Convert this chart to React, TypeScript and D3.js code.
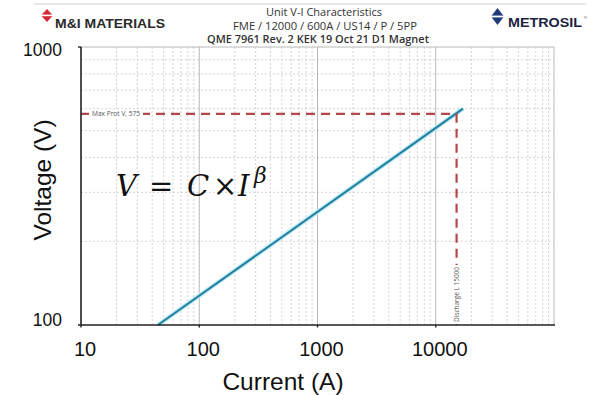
import React from "react";
import * as d3 from "d3";

const W = 591;
const H = 395;

// Data
const currentTicks = [10, 100, 1000, 10000];
const voltageTicks = [100, 1000];
const curveCurrent = [44.7, 17000];
const curveVoltage = [100, 600];
const maxProtV = 575;
const dischargeI = 15000;
const titleLines = [
  "Unit V-I Characteristics",
  "FME / 12000 / 600A / US14 / P / 5PP",
  "QME 7961 Rev. 2 KEK 19 Oct 21  D1 Magnet",
];
const titleWidths = [116, 184, 222];
const titleCenters = [324, 325, 318];

const PL = 81, PR = 554, PT = 47, PB = 325;

export default function App() {
  const x = d3.scaleLog().domain([10, 100000]).range([PL, PR]);
  const y = d3.scaleLog().domain([100, 1000]).range([PB, PT]);

  const minorX: number[] = [];
  for (let d = 10; d < 100000; d *= 10) for (let k = 2; k <= 9; k++) minorX.push(d * k);
  const majorX = [100, 1000, 10000];
  const minorY: number[] = [];
  for (let k = 2; k <= 9; k++) minorY.push(100 * k);

  const pts = curveCurrent.map((c, i) => [c, curveVoltage[i]] as [number, number]);
  const line = d3.line<[number, number]>().x((d) => x(d[0])).y((d) => y(d[1]));
  const pathD = line(pts) || "";

  const red = "#b4474b";
  const sans = "'Liberation Sans', Arial, sans-serif";
  const cal = "'Open Sans', 'Noto Sans', sans-serif";
  const serif = "'DejaVu Serif', 'Liberation Serif', serif";

  const xm = x(dischargeI);
  const ym = y(maxProtV);

  return (
    <svg width={W} height={H} style={{ position: "absolute", left: 0, top: 0, background: "#fff" }}>
      <rect x={0} y={0} width={W} height={H} fill="#fff" />
      {/* header rule */}
      <line x1={34} x2={586} y1={4} y2={4} stroke="#cfcfcf" strokeWidth={1.2} />
      {/* M&I logo */}
      <g>
        <path d="M47,9 L53,15.5 L47,22 L41,15.5 Z" fill="#d42a35" />
        <rect x={40} y={14.6} width={14} height={1.6} fill="#fff" />
        <text x={55} y={28} fontFamily={sans} fontWeight="bold" fontSize={12} fill="#2a2a2a"
          textLength={110} lengthAdjust="spacingAndGlyphs">M&amp;I MATERIALS</text>
      </g>
      {/* Metrosil logo */}
      <g>
        <path d="M497.5,8 L504,16.5 L497.5,25 L491,16.5 Z" fill="#1f3a78" />
        <rect x={490} y={15.6} width={15} height={1.8} fill="#fff" />
        <text x={508} y={27} fontFamily={sans} fontWeight="bold" fontSize={13} fill="#1b2340"
          textLength={74} lengthAdjust="spacingAndGlyphs">METROSIL</text>
        <text x={584} y={19} fontFamily={sans} fontSize={4} fill="#1b2340">®</text>
      </g>
      {/* title */}
      {titleLines.map((t, i) => (
        <text key={t} x={titleCenters[i] - titleWidths[i] / 2} y={16 + i * 13.5} fontFamily={cal}
          fontSize={11} fontWeight={i === 2 ? 600 : 400} fill="#333"
          textLength={titleWidths[i]} lengthAdjust="spacingAndGlyphs">{t}</text>
      ))}

      {/* grid */}
      {minorY.map((v) => (
        <line key={"hy" + v} x1={PL} x2={PR} y1={y(v)} y2={y(v)} stroke="#c9c9c9" strokeWidth={0.8} strokeDasharray="2,2" />
      ))}
      {minorX.map((v) => (
        <line key={"vx" + v} x1={x(v)} x2={x(v)} y1={PT} y2={PB} stroke="#c9c9c9" strokeWidth={0.8} strokeDasharray="2,2" />
      ))}
      {majorX.map((v) => (
        <line key={"mx" + v} x1={x(v)} x2={x(v)} y1={PT} y2={PB} stroke="#b8b8b8" strokeWidth={1} />
      ))}
      <line x1={PL} x2={PR} y1={PT} y2={PT} stroke="#b8b8b8" strokeWidth={1} />
      <line x1={PR} x2={PR} y1={PT} y2={PB} stroke="#b8b8b8" strokeWidth={1} />

      {/* curve */}
      <path d={pathD} fill="none" stroke="#bfe8f4" strokeWidth={4.5} />
      <path d={pathD} fill="none" stroke="#1f7f9f" strokeWidth={2} />

      {/* max prot / discharge markers */}
      <line x1={PL} x2={xm} y1={ym} y2={ym} stroke={red} strokeWidth={2.2} strokeDasharray="9,6" />
      <line x1={xm} x2={xm} y1={ym} y2={PB} stroke={red} strokeWidth={2.2} strokeDasharray="9,6" />
      <rect x={89} y={ym - 3.5} width={54} height={7} fill="#fff" />
      <text x={92} y={ym + 2.2} fontFamily={cal} fontSize={6.2} fill="#555"
        textLength={48} lengthAdjust="spacingAndGlyphs">Max Prot V, 575</text>
      <rect x={xm - 3.5} y={265} width={7} height={59} fill="#fff" />
      <text transform={`translate(${xm + 2.2},${322}) rotate(-90)`} fontFamily={cal} fontSize={6.4} fill="#555"
        textLength={55} lengthAdjust="spacingAndGlyphs">Discharge I, 15000</text>

      {/* axes */}
      <line x1={PL} x2={PL} y1={PT} y2={PB} stroke="#222" strokeWidth={1.6} />
      <line x1={PL - 3} x2={PL} y1={PT} y2={PT} stroke="#222" strokeWidth={1.4} />
      <line x1={PL - 3} x2={PR + 1} y1={PB} y2={PB} stroke="#222" strokeWidth={1.6} />
      {currentTicks.map((v) => (
        <line key={"tk" + v} x1={x(v)} x2={x(v)} y1={PB} y2={PB + 2.5} stroke="#222" strokeWidth={1.4} />
      ))}

      {/* tick labels */}
      {currentTicks.map((v) => (
        <text key={"xl" + v} x={x(v) + 4} y={356} textAnchor="middle" fontFamily={sans} fontSize={20} fill="#111">{v}</text>
      ))}
      {voltageTicks.map((v) => (
        <text key={"yl" + v} x={62} y={y(v) + (v === 1000 ? 9 : 1)} textAnchor="end" fontFamily={sans} fontSize={17.5} fill="#111">{v}</text>
      ))}

      {/* axis titles */}
      <text x={283} y={390} textAnchor="middle" fontFamily={sans} fontSize={24.5} fill="#111">Current (A)</text>
      <text transform="translate(51,180) rotate(-90)" textAnchor="middle" fontFamily={sans} fontSize={24.5} fill="#111">Voltage (V)</text>

      {/* formula */}
      <g fontFamily={serif} fontSize={29} fill="#111">
        <text x={116} y={196} fontStyle="italic">V</text>
        <text x={149} y={196}>=</text>
        <text x={187} y={196} fontStyle="italic">C</text>
        <text x={213} y={196}>×</text>
        <text x={238} y={196} fontStyle="italic">I</text>
        <text x={254} y={183} fontStyle="italic" fontSize={22}>β</text>
      </g>
    </svg>
  );
}
